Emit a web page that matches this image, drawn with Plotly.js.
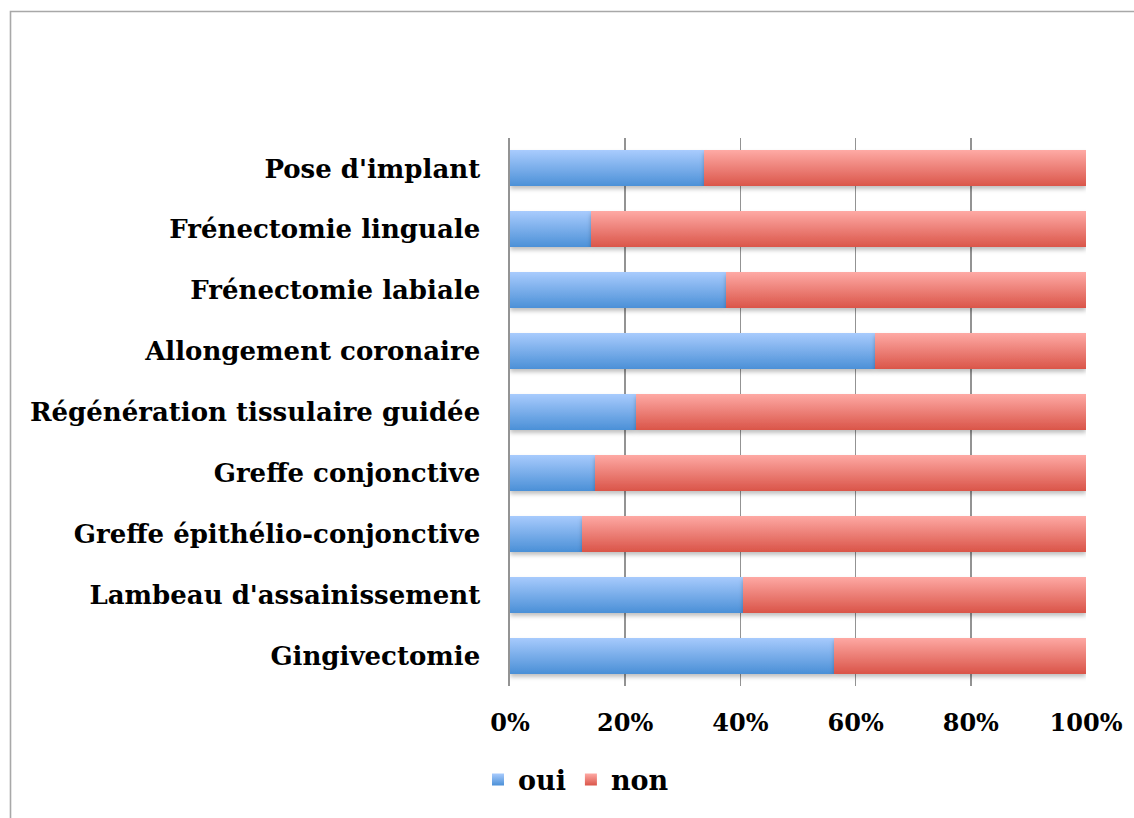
<!DOCTYPE html>
<html>
<head>
<meta charset="utf-8">
<script src="https://cdn.plot.ly/plotly-3.0.1.min.js"></script>
<style>
html, body { margin: 0; padding: 0; background: #ffffff; }
#chart { width: 1134px; height: 818px; }
</style>
</head>
<body>
<div id="chart"></div>
<script>
// Categories listed bottom to top
const categories = [
  "Gingivectomie",
  "Lambeau d'assainissement",
  "Greffe épithélio-conjonctive",
  "Greffe conjonctive",
  "Régénération tissulaire guidée",
  "Allongement coronaire",
  "Frénectomie labiale",
  "Frénectomie linguale",
  "Pose d'implant"
];
const ouiValues = [56.2, 40.5, 12.5, 14.8, 21.9, 63.3, 37.5, 14.1, 33.6];
const nonValues = [43.8, 59.5, 87.5, 85.2, 78.1, 36.7, 62.5, 85.9, 66.4];
const seriesNames = ["oui", "non"];
const xTickValues = [0, 20, 40, 60, 80, 100];

const FONT = "DejaVu Serif, Liberation Serif, serif";

const traces = [
  {
    type: "bar", orientation: "h", name: seriesNames[0],
    y: categories, x: ouiValues,
    marker: { color: "#78abea", line: { width: 0 } },
    hoverinfo: "none"
  },
  {
    type: "bar", orientation: "h", name: seriesNames[1],
    y: categories, x: nonValues,
    marker: { color: "#ed7f78", line: { width: 0 } },
    hoverinfo: "none"
  }
];

const L = 510, R = 1086, T = 138, B = 686;
const pw = R - L, ph = B - T;
function px(x) { return (x - L) / pw; }
function py(y) { return (B - y) / ph; }

const layout = {
  width: 1134, height: 818,
  margin: { l: L, r: 1134 - R, t: T, b: 818 - B, pad: 0 },
  barmode: "stack",
  bargap: 0.41,
  paper_bgcolor: "#ffffff",
  plot_bgcolor: "#ffffff",
  showlegend: true,
  legend: {
    orientation: "h",
    x: px(478), xanchor: "left",
    y: py(780), yanchor: "middle",
    font: { family: FONT, size: 27, color: "#000000", weight: "bold" },
    bgcolor: "rgba(0,0,0,0)",
    traceorder: "normal",
    itemclick: false
  },
  xaxis: {
    range: [0, 100],
    tickvals: xTickValues,
    ticktext: xTickValues.map(v => v + "%"),
    showgrid: true, gridcolor: "#939393", gridwidth: 1.6,
    zeroline: false, showline: false,
    ticks: "",
    ticklabelstandoff: 20,
    tickfont: { family: FONT, size: 24, color: "#000000", weight: "bold" },
    fixedrange: true
  },
  yaxis: {
    type: "category",
    showgrid: false, zeroline: false,
    showline: true, linecolor: "#939393", linewidth: 1.6,
    ticks: "",
    ticklabelstandoff: 23,
    tickfont: { family: FONT, size: 26, color: "#000000", weight: "bold" },
    fixedrange: true
  },
  shapes: [
    {
      type: "rect", xref: "paper", yref: "paper", layer: "below",
      x0: px(10.5), x1: px(1250), y0: py(900), y1: py(11.5),
      line: { color: "#a8a8a8", width: 1.6 }, fillcolor: "rgba(0,0,0,0)"
    }
  ]
};

Plotly.newPlot("chart", traces, layout, { staticPlot: true, displayModeBar: false }).then(function (gd) {
  const svg = gd.querySelector("svg.main-svg");
  const ns = "http://www.w3.org/2000/svg";
  let defs = svg.querySelector("defs");
  if (!defs) { defs = document.createElementNS(ns, "defs"); svg.insertBefore(defs, svg.firstChild); }
  function grad(id, c1, c2) {
    const g = document.createElementNS(ns, "linearGradient");
    g.setAttribute("id", id);
    g.setAttribute("x1", "0"); g.setAttribute("y1", "0");
    g.setAttribute("x2", "0"); g.setAttribute("y2", "1");
    const s1 = document.createElementNS(ns, "stop");
    s1.setAttribute("offset", "0"); s1.setAttribute("stop-color", c1);
    const s2 = document.createElementNS(ns, "stop");
    s2.setAttribute("offset", "1"); s2.setAttribute("stop-color", c2);
    g.appendChild(s1); g.appendChild(s2); defs.appendChild(g);
  }
  grad("gBlue", "#a8cbfd", "#4b90d7");
  grad("gRed", "#fea9a4", "#da5549");
  const f = document.createElementNS(ns, "filter");
  f.setAttribute("id", "shadow");
  f.setAttribute("x", "-5%"); f.setAttribute("y", "-20%");
  f.setAttribute("width", "110%"); f.setAttribute("height", "160%");
  const ds = document.createElementNS(ns, "feDropShadow");
  ds.setAttribute("dx", "0"); ds.setAttribute("dy", "3");
  ds.setAttribute("stdDeviation", "2"); ds.setAttribute("flood-color", "#000");
  ds.setAttribute("flood-opacity", "0.25");
  f.appendChild(ds); defs.appendChild(f);

  const ids = ["url(#gBlue)", "url(#gRed)"];
  gd.querySelectorAll(".barlayer .trace.bars").forEach(function (tr, i) {
    tr.querySelectorAll("path").forEach(function (p) {
      p.style.fill = ids[i];
      p.style.filter = "url(#shadow)";
    });
  });
  gd.querySelectorAll(".legend .traces").forEach(function (tr, i) {
    tr.querySelectorAll(".legendpoints path").forEach(function (p) {
      p.style.fill = ids[i];
    });
  });
});
</script>
</body>
</html>
